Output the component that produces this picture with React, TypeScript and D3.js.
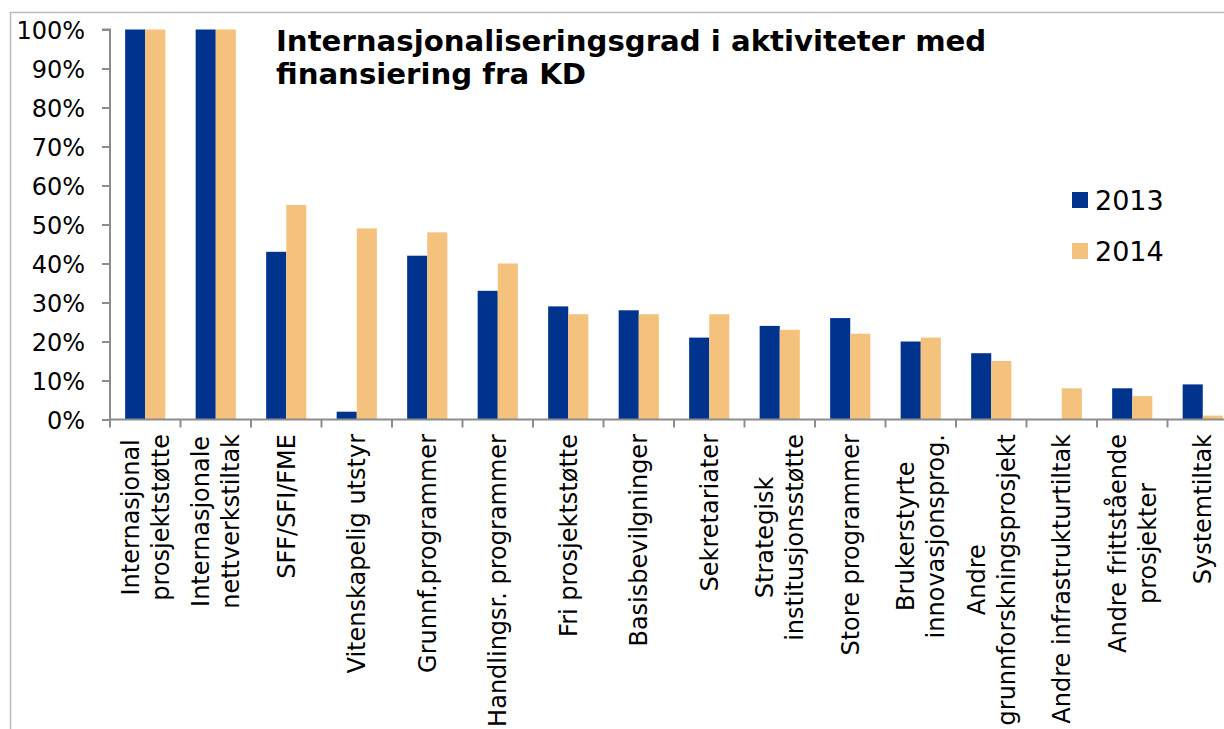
import React, { useEffect, useRef } from "react";
import * as d3 from "d3";

const categories: string[][] = [
  ["Internasjonal", "prosjektstøtte"],
  ["Internasjonale", "nettverkstiltak"],
  ["SFF/SFI/FME"],
  ["Vitenskapelig utstyr"],
  ["Grunnf.programmer"],
  ["Handlingsr. programmer"],
  ["Fri prosjektstøtte"],
  ["Basisbevilgninger"],
  ["Sekretariater"],
  ["Strategisk", "institusjonsstøtte"],
  ["Store programmer"],
  ["Brukerstyrte", "innovasjonsprog."],
  ["Andre", "grunnforskningsprosjekt"],
  ["Andre infrastrukturtiltak"],
  ["Andre frittstående", "prosjekter"],
  ["Systemtiltak"],
];
const series2013 = [100, 100, 43, 2, 42, 33, 29, 28, 21, 24, 26, 20, 17, 0, 8, 9];
const series2014 = [100, 100, 55, 49, 48, 40, 27, 27, 27, 23, 22, 21, 15, 8, 6, 1];
const seriesNames = ["2013", "2014"];
const seriesColors = ["#00338D", "#F5C27E"];
const yTicks = [0, 10, 20, 30, 40, 50, 60, 70, 80, 90, 100];
const titleLines = ["Internasjonaliseringsgrad i aktiviteter med", "finansiering fra KD"];

const W = 1224;
const H = 729;
const FONT = "'DejaVu Sans', Verdana, sans-serif";

export default function App() {
  const ref = useRef<SVGSVGElement | null>(null);

  useEffect(() => {
    const svg = d3.select(ref.current);
    svg.selectAll("*").remove();

    const x0 = 110;
    const step = 70.5;
    const x = d3
      .scaleBand<number>()
      .domain(d3.range(categories.length))
      .range([x0, x0 + step * categories.length])
      .paddingInner(0.43)
      .paddingOuter(0.215);
    const xSub = d3.scaleBand<number>().domain([0, 1]).range([0, x.bandwidth()]);
    const y = d3.scaleLinear().domain([0, 100]).range([419.5, 29.5]);

    // outer frame
    svg
      .append("rect")
      .attr("x", 10.5)
      .attr("y", 12.5)
      .attr("width", 1300)
      .attr("height", 900)
      .attr("fill", "white")
      .attr("stroke", "#BDBDBD")
      .attr("stroke-width", 1.5);

    // bars
    const data = [series2013, series2014];
    data.forEach((vals, si) => {
      svg
        .append("g")
        .selectAll("rect")
        .data(vals)
        .join("rect")
        .attr("x", (_d, i) => (x(i) as number) + (xSub(si) as number))
        .attr("width", xSub.bandwidth())
        .attr("y", (d) => y(d))
        .attr("height", (d) => y(0) - y(d))
        .attr("fill", seriesColors[si]);
    });

    // y axis
    const yAxis = d3
      .axisLeft(y)
      .tickValues(yTicks)
      .tickSize(8)
      .tickPadding(17)
      .tickFormat((d) => `${d}%`);
    const gy = svg.append("g").attr("transform", `translate(${x0},0)`).call(yAxis);
    gy.selectAll("path,line").attr("stroke", "#8C8C8C").attr("stroke-width", 2);
    gy.select(".domain").attr("d", `M-8,${y(100)}H0V${y(0)}`);
    gy.selectAll("text")
      .attr("font-family", FONT)
      .attr("font-size", 24)
      .attr("fill", "#000")
      .attr("dy", "0.36em");

    // x axis line and ticks
    const gx = svg.append("g");
    gx.append("line")
      .attr("x1", x0)
      .attr("x2", x0 + step * categories.length)
      .attr("y1", y(0))
      .attr("y2", y(0))
      .attr("stroke", "#8C8C8C")
      .attr("stroke-width", 2);
    gx.selectAll("line.tick")
      .data(d3.range(categories.length + 1))
      .join("line")
      .attr("class", "tick")
      .attr("x1", (i) => x0 + i * x.step())
      .attr("x2", (i) => x0 + i * x.step())
      .attr("y1", y(0))
      .attr("y2", y(0) + 8)
      .attr("stroke", "#8C8C8C")
      .attr("stroke-width", 2);

    // category labels
    const labelTop = 434;
    const lineH = 30;
    const fs = 24;
    categories.forEach((lines, i) => {
      const cx = (x(i) as number) + x.bandwidth() / 2;
      const g = gx.append("g").attr("transform", `translate(${cx},${labelTop}) rotate(-90)`);
      const texts = lines.map((ln, li) =>
        g
          .append("text")
          .attr("font-family", FONT)
          .attr("font-size", fs)
          .attr("text-anchor", "middle")
          .attr("y", (li - (lines.length - 1) / 2) * lineH + fs * 0.36)
          .text(ln)
      );
      const maxLen = d3.max(texts, (t) => (t.node() as SVGTextElement).getComputedTextLength()) || 0;
      texts.forEach((t) => t.attr("x", -maxLen / 2));
    });

    // title
    const title = svg
      .append("text")
      .attr("font-family", FONT)
      .attr("font-weight", "bold")
      .attr("font-size", 29.2)
      .attr("fill", "#000");
    titleLines.forEach((t, i) => {
      title
        .append("tspan")
        .attr("x", 276)
        .attr("y", 51 + i * 33)
        .text(t);
    });

    // legend
    const lg = svg.append("g");
    seriesNames.forEach((name, i) => {
      const yy = 192 + i * 51;
      lg.append("rect")
        .attr("x", 1072)
        .attr("y", yy)
        .attr("width", 16)
        .attr("height", 16)
        .attr("fill", seriesColors[i]);
      lg.append("text")
        .attr("x", 1095)
        .attr("y", yy + 17.5)
        .attr("font-family", FONT)
        .attr("font-size", 27)
        .attr("fill", "#000")
        .text(name);
    });
  }, []);

  return (
    <svg
      ref={ref}
      width={W}
      height={H}
      style={{ position: "absolute", left: 0, top: 0, background: "white" }}
    />
  );
}
